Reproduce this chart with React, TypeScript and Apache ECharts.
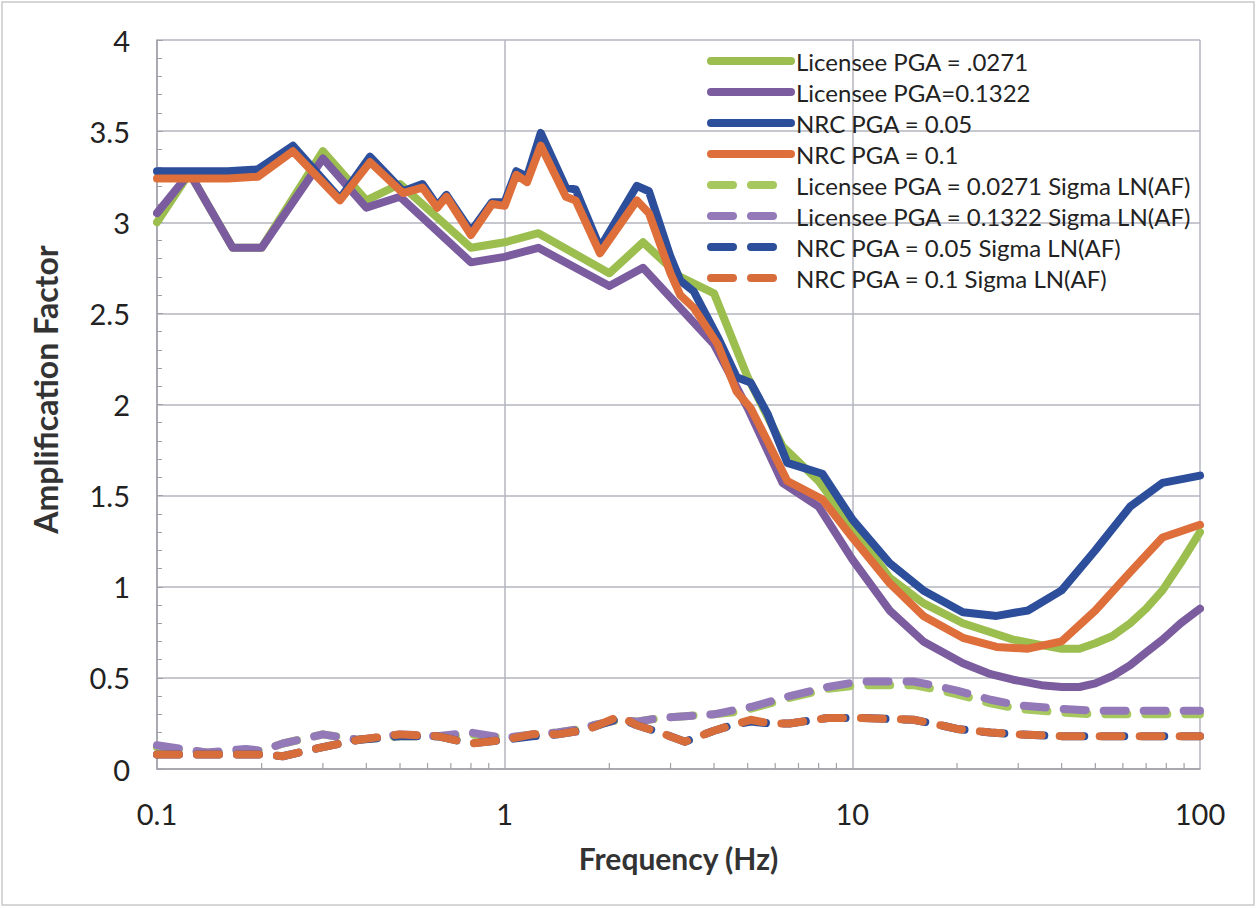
import React, { useEffect, useRef } from "react";
import * as echarts from "echarts";

// ---- data ----
const xTickLabels = ["0.1", "1", "10", "100"];
const yMin = 0;
const yMax = 4;
const yStep = 0.5;

const licFreq = [0.1, 0.124, 0.165, 0.2, 0.3, 0.4, 0.5, 0.8, 1.0, 1.25, 2.0, 2.5, 3.2, 4.0, 5.0, 6.3, 8.0, 10, 12.8, 16, 20.8, 25, 29, 35, 40, 45, 50, 56, 63, 70, 78, 88, 100];
const licensee0271 = [3.0, 3.27, 2.86, 2.86, 3.39, 3.12, 3.21, 2.86, 2.89, 2.94, 2.72, 2.89, 2.7, 2.61, 2.15, 1.77, 1.58, 1.33, 1.05, 0.91, 0.8, 0.75, 0.71, 0.68, 0.66, 0.66, 0.69, 0.73, 0.8, 0.88, 0.98, 1.13, 1.3];
const licensee1322 = [3.05, 3.27, 2.86, 2.86, 3.35, 3.08, 3.14, 2.78, 2.81, 2.86, 2.65, 2.75, 2.53, 2.33, 1.98, 1.57, 1.44, 1.15, 0.87, 0.7, 0.58, 0.52, 0.49, 0.46, 0.45, 0.45, 0.47, 0.51, 0.57, 0.64, 0.71, 0.8, 0.88];

const nrcFreq = [0.1, 0.13, 0.16, 0.195, 0.246, 0.336, 0.41, 0.51, 0.58, 0.64, 0.68, 0.8, 0.92, 1.0, 1.08, 1.16, 1.27, 1.5, 1.6, 1.88, 2.4, 2.6, 3.0, 3.2, 3.5, 4.1, 4.65, 5.1, 5.7, 6.5, 8.2, 10, 12.8, 16, 20.8, 26, 32, 40, 50, 63, 78, 100];
const nrc005 = [3.28, 3.28, 3.28, 3.29, 3.42, 3.13, 3.36, 3.17, 3.21, 3.09, 3.15, 2.95, 3.11, 3.11, 3.28, 3.25, 3.49, 3.19, 3.18, 2.86, 3.2, 3.17, 2.81, 2.68, 2.62, 2.37, 2.15, 2.12, 1.95, 1.68, 1.62, 1.37, 1.13, 0.98, 0.86, 0.84, 0.87, 0.98, 1.2, 1.44, 1.57, 1.61];
const nrc01 = [3.24, 3.24, 3.24, 3.25, 3.39, 3.12, 3.33, 3.16, 3.19, 3.08, 3.14, 2.93, 3.1, 3.09, 3.26, 3.22, 3.42, 3.14, 3.12, 2.83, 3.12, 3.05, 2.72, 2.6, 2.53, 2.33, 2.07, 1.98, 1.8, 1.58, 1.48, 1.27, 1.02, 0.84, 0.72, 0.67, 0.66, 0.7, 0.87, 1.08, 1.27, 1.34];

const sigFreq = [0.1, 0.14, 0.18, 0.2, 0.23, 0.3, 0.38, 0.5, 0.64, 0.8, 1.0, 1.2, 1.42, 1.65, 1.8, 2.14, 2.4, 2.8, 3.3, 4.0, 4.5, 5.1, 5.8, 6.6, 8.5, 10.5, 15, 17, 20, 25, 30, 40, 50, 70, 100];
const sigLic0271 = [0.12, 0.09, 0.1, 0.1, 0.14, 0.19, 0.16, 0.18, 0.18, 0.19, 0.17, 0.19, 0.2, 0.22, 0.24, 0.27, 0.26, 0.28, 0.29, 0.3, 0.31, 0.33, 0.36, 0.39, 0.44, 0.46, 0.46, 0.44, 0.41, 0.36, 0.33, 0.31, 0.3, 0.3, 0.3];
const sigLic1322 = [0.13, 0.09, 0.11, 0.1, 0.14, 0.19, 0.16, 0.19, 0.18, 0.2, 0.17, 0.19, 0.2, 0.22, 0.24, 0.27, 0.26, 0.28, 0.29, 0.3, 0.32, 0.34, 0.37, 0.4, 0.45, 0.48, 0.48, 0.46, 0.43, 0.38, 0.35, 0.33, 0.32, 0.32, 0.32];
const sigNrc005 = [0.08, 0.08, 0.08, 0.08, 0.07, 0.12, 0.16, 0.18, 0.18, 0.14, 0.16, 0.18, 0.19, 0.21, 0.23, 0.28, 0.24, 0.2, 0.15, 0.21, 0.24, 0.26, 0.25, 0.25, 0.28, 0.28, 0.27, 0.25, 0.22, 0.2, 0.19, 0.18, 0.18, 0.18, 0.18];
const sigNrc01 = [0.08, 0.08, 0.08, 0.08, 0.07, 0.12, 0.16, 0.19, 0.18, 0.14, 0.16, 0.19, 0.19, 0.21, 0.23, 0.29, 0.24, 0.2, 0.15, 0.21, 0.24, 0.27, 0.25, 0.25, 0.28, 0.28, 0.27, 0.25, 0.22, 0.2, 0.19, 0.18, 0.18, 0.18, 0.18];

const xMinorTicks = [0.2, 0.3, 0.4, 0.5, 0.6, 0.7, 0.8, 0.9, 2, 3, 4, 5, 6, 7, 8, 9, 20, 30, 40, 50, 60, 70, 80, 90];

const seriesNames = [
  "Licensee PGA = .0271",
  "Licensee PGA=0.1322",
  "NRC PGA = 0.05",
  "NRC PGA = 0.1",
  "Licensee PGA = 0.0271 Sigma LN(AF)",
  "Licensee PGA = 0.1322 Sigma LN(AF)",
  "NRC PGA = 0.05 Sigma LN(AF)",
  "NRC PGA = 0.1 Sigma LN(AF)",
];

const FONT = "Lato";

export default function App() {
  const ref = useRef<HTMLDivElement>(null);
  useEffect(() => {
    if (!ref.current) return;
    const chart = echarts.init(ref.current, null, { renderer: "svg" });
    const pairs = (f: number[], v: number[]) => f.map((x, i) => [x, v[i]]);
    const line = (name: string, color: string, f: number[], v: number[], dashed: boolean) => ({
      type: "line",
      name,
      data: pairs(f, v),
      symbol: "none",
      showSymbol: false,
      smooth: false,
      lineStyle: {
        color,
        width: 8,
        cap: "round",
        join: "round",
        type: dashed ? [22, 18] : "solid",
      },
      itemStyle: { color },
      emphasis: { disabled: true },
      z: 3,
    });

    chart.setOption({
      animation: false,
      backgroundColor: "#ffffff",
      textStyle: { fontFamily: FONT },
      grid: { left: 157, right: 57, top: 40, bottom: 139, containLabel: false },
      graphic: [
        {
          type: "rect",
          shape: { x: 2, y: 2, width: 1252, height: 903 },
          style: { fill: "none", stroke: "#c9c9c9", lineWidth: 1.5 },
          silent: true,
        },
      ],
      legend: {
        orient: "vertical",
        left: 702,
        top: 44,
        itemWidth: 80,
        itemHeight: 12,
        itemGap: 7,
        data: seriesNames,
        lineStyle: { width: 8 },
        itemStyle: { opacity: 0, borderWidth: 0 },
        textStyle: { fontFamily: FONT, fontSize: 24, color: "#222", lineHeight: 24 },
        selectedMode: false,
      },
      xAxis: {
        type: "log",
        logBase: 10,
        min: 0.1,
        max: 100,
        name: "Frequency (Hz)",
        nameLocation: "middle",
        nameGap: 74,
        nameTextStyle: { fontFamily: FONT, fontSize: 30, fontWeight: "bold", color: "#333" },
        axisLine: { show: true, lineStyle: { color: "#a0a0a8", width: 1.5 } },
        axisTick: { show: false },
        axisLabel: {
          margin: 30,
          fontSize: 29,
          color: "#222",
          fontFamily: FONT,
          formatter: (v: number) => xTickLabels[Math.round(Math.log10(v)) + 1],
        },
        splitLine: { show: true, lineStyle: { color: "#b4b4c0", width: 1.5 } },
        minorTick: { show: false },
      },
      yAxis: {
        type: "value",
        min: yMin,
        max: yMax,
        interval: yStep,
        name: "Amplification Factor",
        nameLocation: "middle",
        nameGap: 96,
        nameTextStyle: {
          fontFamily: FONT,
          fontSize: 32,
          fontWeight: "bold",
          color: "#333",
          padding: [0, 0, 0, 30],
        },
        axisLine: { show: true, lineStyle: { color: "#a0a0a8", width: 1.5 } },
        axisTick: { show: true, inside: true, length: 6, lineStyle: { color: "#a0a0a8" } },
        minorTick: { show: true, splitNumber: 5, length: 5, lineStyle: { color: "#a0a0a8", width: 1 } },
        axisLabel: {
          margin: 27,
          fontSize: 29,
          color: "#222",
          fontFamily: FONT,
          formatter: (v: number) => String(v),
        },
        splitLine: { show: true, lineStyle: { color: "#b4b4c0", width: 1.5 } },
      },
      series: [
        {
          type: "custom",
          name: "xminor",
          silent: true,
          data: xMinorTicks.map((f) => [f, 0]),
          encode: { x: 0, y: 1 },
          z: 1,
          renderItem: (params: any, api: any) => {
            const p = api.coord([api.value(0), 0]);
            return {
              type: "line",
              shape: { x1: p[0], y1: p[1], x2: p[0], y2: p[1] - 6 },
              style: { stroke: "#a0a0a8", lineWidth: 1.2 },
            };
          },
        },
        line(seriesNames[0], "#9bbe4f", licFreq, licensee0271, false),
        line(seriesNames[1], "#7b5c9e", licFreq, licensee1322, false),
        line(seriesNames[2], "#2c4e9b", nrcFreq, nrc005, false),
        line(seriesNames[3], "#de6e3a", nrcFreq, nrc01, false),
        line(seriesNames[4], "#a6c85e", sigFreq, sigLic0271, true),
        line(seriesNames[5], "#9479b8", sigFreq, sigLic1322, true),
        line(seriesNames[6], "#2c4e9b", sigFreq, sigNrc005, true),
        line(seriesNames[7], "#d86d3c", sigFreq, sigNrc01, true),
      ],
    });
    return () => chart.dispose();
  }, []);

  return (
    <div
      ref={ref}
      style={{ position: "absolute", left: 0, top: 0, width: 1257, height: 908, background: "#fff" }}
    />
  );
}
